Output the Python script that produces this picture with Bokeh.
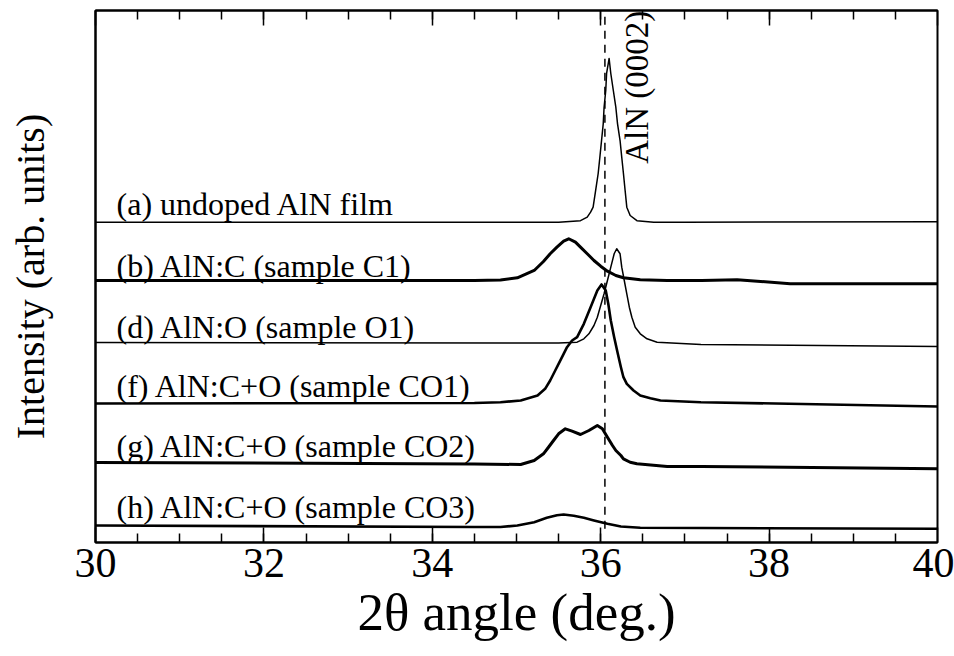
import numpy as np
from bokeh.plotting import figure
from bokeh.models import (ColumnDataSource, FixedTicker, LinearAxis, Label, Range1d)
from bokeh.core.properties import value
from bokeh.embed import file_html
from bokeh.resources import INLINE

FONT = "Liberation Serif"

# ---- data (2theta in degrees, intensity in arb. units incl. vertical offsets) ----
a_x = [30.0, 35.0, 35.5, 35.76, 35.84, 35.88, 35.91, 35.94, 35.97, 35.99, 36.01, 36.03,
       36.04, 36.06, 36.07, 36.10, 36.12, 36.15, 36.18, 36.20, 36.23, 36.25, 36.27, 36.29,
       36.31, 36.35, 36.43, 36.63, 37.0, 40.0]
a_y = [60.2, 60.2, 60.2, 60.5, 61.15, 62.09, 63.03, 66.17, 69.36, 72.42, 75.56, 78.70,
       81.77, 84.96, 88.16, 90.98, 88.16, 84.96, 81.77, 78.70, 75.56, 72.42, 69.36, 66.17,
       63.03, 61.47, 60.5, 60.2, 60.2, 60.3]

b_x = [30.0, 34.5, 34.81, 35.01, 35.21, 35.32, 35.40, 35.48, 35.56, 35.62, 35.70, 35.76,
       35.84, 35.92, 36.0, 36.08, 36.18, 36.27, 36.47, 36.79, 37.2, 37.62, 37.9, 38.25, 40.0]
b_y = [49.25, 49.25, 49.34, 49.76, 51.13, 52.82, 54.27, 55.51, 56.64, 57.09, 56.45, 55.51,
       54.27, 53.01, 51.94, 51.00, 50.19, 49.76, 49.38, 49.25, 49.25, 49.38, 49.06, 48.63, 48.63]

d_x = [30.0, 35.0, 35.5, 35.72, 35.80, 35.86, 35.92, 35.96, 36.0, 36.04, 36.08, 36.12,
       36.16, 36.19, 36.23, 36.25, 36.28, 36.31, 36.34, 36.37, 36.41, 36.47, 36.55, 36.67,
       37.19, 40.0]
d_y = [37.59, 37.50, 37.50, 37.65, 38.29, 39.23, 40.79, 42.35, 44.55, 46.75, 49.25, 51.75,
       54.27, 55.21, 54.27, 51.75, 49.25, 46.75, 44.23, 42.35, 40.47, 39.23, 38.29, 37.65,
       37.22, 36.84]

f_x = [30.0, 34.5, 34.81, 35.05, 35.25, 35.34, 35.40, 35.46, 35.50, 35.56, 35.60, 35.66,
       35.72, 35.80, 35.88, 35.96, 36.01, 36.06, 36.09, 36.12, 36.16, 36.20, 36.24, 36.27,
       36.31, 36.39, 36.47, 36.59, 36.71, 37.19, 40.0]
f_y = [26.13, 26.22, 26.37, 26.69, 27.63, 28.89, 30.45, 32.33, 33.59, 35.47, 36.71, 37.97,
       38.59, 41.11, 44.23, 47.37, 48.50, 47.37, 44.87, 41.73, 38.59, 35.71, 32.95, 31.07,
       29.83, 28.57, 27.63, 27.13, 26.69, 26.37, 25.56]

g_x = [30.0, 34.5, 35.05, 35.21, 35.32, 35.38, 35.44, 35.50, 35.58, 35.66, 35.76, 35.86,
       35.96, 36.02, 36.08, 36.14, 36.18, 36.24, 36.27, 36.35, 36.43, 36.79, 37.2, 40.0]
g_y = [15.04, 14.76, 14.66, 15.41, 16.67, 17.91, 19.17, 20.43, 21.37, 20.92, 20.30, 21.05,
       21.99, 21.37, 19.79, 18.23, 17.29, 16.35, 15.73, 15.09, 14.79, 14.29, 14.29, 13.85]

h_x = [30.0, 34.5, 34.81, 35.01, 35.21, 35.36, 35.48, 35.56, 35.68, 35.80, 35.92, 36.08,
       36.24, 36.47, 40.0]
h_y = [3.20, 2.91, 2.91, 3.20, 3.82, 4.64, 5.13, 5.26, 5.02, 4.64, 4.14, 3.52,
       3.01, 2.76, 2.58]

curve_widths = {"a": 1.5, "b": 3.0, "d": 1.5, "f": 2.6, "g": 3.0, "h": 2.6}

label_texts = ["(a) undoped AlN film", "(b) AlN:C (sample C1)", "(d) AlN:O (sample O1)",
               "(f) AlN:C+O (sample CO1)", "(g) AlN:C+O (sample CO2)", "(h) AlN:C+O (sample CO3)"]
label_x = [30.25] * 6
label_y = [63.7, 52.0, 40.6, 29.4, 18.1, 6.7]

ref_x = 36.05          # AlN (0002) reference position
ref_y = [2.6, 100.0]

major_ticks = [30, 32, 34, 36, 38, 40]
minor_ticks = [30.5, 31, 31.5, 32, 32.5, 33, 33.5, 34, 34.5, 35, 35.5, 36, 36.5, 37,
               37.5, 38, 38.5, 39, 39.5]

y_title = "Intensity (arb. units)"
x_title = "2θ angle (deg.)"

# ---- figure ----
p = figure(width=954, height=656, output_backend="svg", toolbar_location=None,
           x_range=Range1d(30, 40), y_range=Range1d(0, 100))
p.min_border_left = 95
p.min_border_right = 17
p.min_border_top = 10
p.min_border_bottom = 114
p.xgrid.visible = False
p.ygrid.visible = False
p.outline_line_color = "black"
p.outline_line_width = 2
p.background_fill_color = "white"
p.border_fill_color = "white"

# left axis: plain line, no ticks, carries the y title
ya = p.yaxis[0]
ya.level = "overlay"
ya.ticker = FixedTicker(ticks=[])
ya.axis_line_width = 2
ya.major_tick_in = 0
ya.major_tick_out = 0
ya.minor_tick_in = 0
ya.minor_tick_out = 0
ya.major_label_standoff = 0
ya.axis_label = y_title
ya.axis_label_text_font = FONT
ya.axis_label_text_font_size = "40px"
ya.axis_label_text_font_style = "normal"
ya.axis_label_text_color = "black"
ya.axis_label_standoff = 43

ticker = FixedTicker(ticks=major_ticks, minor_ticks=minor_ticks)
xa = p.xaxis[0]
xa.ticker = ticker
xa.level = "overlay"
xa.axis_line_width = 2
xa.major_tick_in = 15
xa.major_tick_out = 0
xa.minor_tick_in = 9
xa.minor_tick_out = 0
xa.major_tick_line_width = 1.5
xa.minor_tick_line_width = 1.5
xa.major_label_text_font = FONT
xa.major_label_text_font_size = "42px"
xa.major_label_text_color = "black"
xa.major_label_standoff = 6
xa.axis_label = x_title
xa.axis_label_text_font = FONT
xa.axis_label_text_font_size = "53px"
xa.axis_label_text_font_style = "normal"
xa.axis_label_text_color = "black"
xa.axis_label_standoff = 3

top = LinearAxis(ticker=ticker, major_label_overrides={t: "" for t in major_ticks})
top.level = "overlay"
top.axis_line_width = 2
top.major_tick_in = 15
top.major_tick_out = 0
top.minor_tick_in = 9
top.minor_tick_out = 0
top.major_tick_line_width = 1.5
top.minor_tick_line_width = 1.5
top.major_label_standoff = 0
top.major_label_text_font_size = "1px"
p.add_layout(top, "above")

for key, xs, ys in [("a", a_x, a_y), ("b", b_x, b_y), ("d", d_x, d_y),
                    ("f", f_x, f_y), ("g", g_x, g_y), ("h", h_x, h_y)]:
    p.line(xs, ys, line_color="black", line_width=curve_widths[key], line_join="round")

p.line([ref_x, ref_x], ref_y, line_color="black", line_width=1.5, line_dash="8 6")

src = ColumnDataSource(dict(x=label_x, y=label_y, text=label_texts))
p.text(x="x", y="y", text="text", source=src, text_font=value(FONT),
       text_font_size="32px", text_color="black", text_align="left",
       text_baseline="alphabetic")

p.add_layout(Label(x=36.43, y=71.2, text="AlN (0002)", angle=np.pi / 2,
                   text_font=FONT, text_font_size="33px", text_color="black",
                   text_align="left", text_baseline="alphabetic"))

open("out.html", "w").write(file_html(p, INLINE))
